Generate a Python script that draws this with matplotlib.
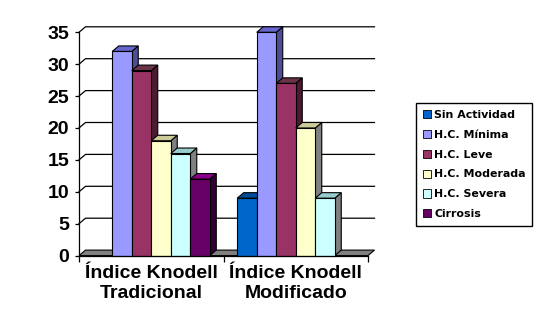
import numpy as np
import matplotlib
matplotlib.use("Agg")
from matplotlib import pyplot as plt
from matplotlib.patches import Polygon, Patch

categories = ["Índice Knodell\nTradicional", "Índice Knodell\nModificado"]
series = ["Sin Actividad", "H.C. Mínima", "H.C. Leve", "H.C. Moderada", "H.C. Severa", "Cirrosis"]
tradicional = [0, 32, 29, 18, 16, 12]
modificado = [9, 35, 27, 20, 9, 0]
yticks = [0, 5, 10, 15, 20, 25, 30, 35]

front_colors = ["#0066CC", "#9999FF", "#993366", "#FFFFCC", "#CCFFFF", "#660066"]
top_colors = ["#004C99", "#6666CC", "#6B3347", "#CCCC99", "#99CCCC", "#8A008A"]
side_colors = ["#003366", "#4D4D99", "#4D1A33", "#808080", "#808080", "#330033"]

W, H = 541, 333
fig = plt.figure(figsize=(W / 100, H / 100), dpi=100)
ax_l, ax_r, ax_b, ax_t = 79, 368, 255.6, 32.3
ax = fig.add_axes([ax_l / W, 1 - ax_b / H, (ax_r - ax_l) / W, (ax_b - ax_t) / H])
ax.set_xlim(0, 2)
ax.set_ylim(0, 35)

# depth of the 3d effect, in data units
dx = 6.5 * 2 / (ax_r - ax_l)
dy = 5.5 * 35 / (ax_b - ax_t)

# floor
floor = Polygon([(0, 0), (2, 0), (2 + dx, dy), (dx, dy)], closed=True,
                facecolor="#808080", edgecolor="black", lw=0.8, zorder=1, clip_on=False)
ax.add_patch(floor)

# gridlines on the back wall, with the little diagonal from the axis
for t in yticks[1:]:
    ax.plot([0, dx, 2 + dx], [t, t + dy, t + dy], color="black", lw=0.9,
            zorder=1, clip_on=False)

nser = len(series)
group_w = 0.81
bw = group_w / nser
z = 2
for ci, vals in enumerate([tradicional, modificado]):
    for i, v in enumerate(vals):
        if v <= 0:
            continue
        x = ci + 0.5 - group_w / 2 + i * bw
        side = Polygon([(x + bw, 0), (x + bw + dx, dy), (x + bw + dx, v + dy), (x + bw, v)],
                       closed=True, facecolor=side_colors[i], edgecolor="black",
                       lw=0.8, zorder=z, clip_on=False)
        top = Polygon([(x, v), (x + bw, v), (x + bw + dx, v + dy), (x + dx, v + dy)],
                      closed=True, facecolor=top_colors[i], edgecolor="black",
                      lw=0.8, zorder=z, clip_on=False)
        front = Polygon([(x, 0), (x + bw, 0), (x + bw, v), (x, v)],
                        closed=True, facecolor=front_colors[i], edgecolor="black",
                        lw=0.8, zorder=z, clip_on=False)
        ax.add_patch(side)
        ax.add_patch(top)
        ax.add_patch(front)
        z += 1

for s in ["top", "right"]:
    ax.spines[s].set_visible(False)
for s in ["left", "bottom"]:
    ax.spines[s].set_linewidth(0.9)
    ax.spines[s].set_zorder(50)
ax.patch.set_visible(False)

ax.set_yticks(yticks)
ax.set_yticklabels([str(t) for t in yticks], fontsize=14, fontweight="bold",
                   family="Liberation Sans")
ax.tick_params(axis="y", length=3, width=0.9, pad=4)

ax.set_xticks([0, 1, 2])
ax.set_xticklabels([])
ax.tick_params(axis="x", which="major", length=4, width=0.9)
ax.set_xticks([0.5, 1.5], minor=True)
ax.set_xticklabels(categories, minor=True, fontsize=14, fontweight="bold",
                   family="Liberation Sans")
ax.tick_params(axis="x", which="minor", length=0, pad=7)

handles = [Patch(facecolor=c, edgecolor="black", lw=0.6) for c in front_colors]
leg = fig.legend(handles, series, loc="center left",
                 bbox_to_anchor=(416 / W, 1 - 164.5 / H),
                 frameon=True, fancybox=False, edgecolor="black", framealpha=1,
                 prop={"family": "DejaVu Sans", "weight": "bold", "size": 7.9},
                 handlelength=0.75, handleheight=0.75, handletextpad=0.3,
                 labelspacing=0.9, borderpad=0.6, borderaxespad=0)
leg.get_frame().set_linewidth(1.0)

fig.savefig("out.png", dpi=100)
